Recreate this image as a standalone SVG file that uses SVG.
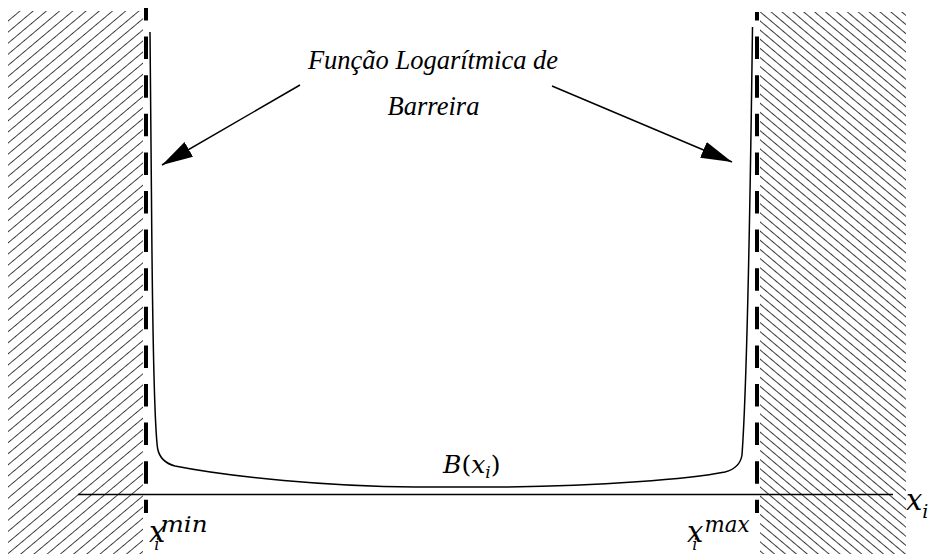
<svg xmlns="http://www.w3.org/2000/svg" width="934" height="554" viewBox="0 0 934 554">
<style>
.hl{stroke:#3a3a3a;stroke-width:1;}
.dash{stroke:#000;stroke-width:4;fill:none;stroke-dasharray:22.5 16.1;}
.curve{stroke:#000;stroke-width:1.5;fill:none;}
.axis{stroke:#000;stroke-width:1.6;}
.arr{stroke:#000;stroke-width:1.5;fill:none;marker-end:url(#ah);}
.lbl{font-family:'Liberation Serif',serif;font-style:italic;font-size:26.5px;fill:#000;text-anchor:middle;}
.m{font-family:'DejaVu Serif',serif;font-style:italic;fill:#000;}
.up{font-style:normal;}
</style>
<defs>
<pattern id="hatchL" width="20" height="8.5" patternUnits="userSpaceOnUse" patternTransform="rotate(-40)">
<line class="hl" x1="-1" y1="4.25" x2="21" y2="4.25"/>
</pattern>
<pattern id="hatchR" width="20" height="7" patternUnits="userSpaceOnUse" patternTransform="rotate(40)">
<line class="hl" x1="-1" y1="3.5" x2="21" y2="3.5"/>
</pattern>
<marker id="ah" markerUnits="userSpaceOnUse" markerWidth="34" markerHeight="20" refX="31" refY="8.5" orient="auto">
<path d="M0,0 L31,8.5 L0,17 Z" fill="#000"/>
</marker>
</defs>
<g id="regions">
<rect id="left-region" x="8" y="11" width="135" height="543" fill="url(#hatchL)"/>
<rect id="right-region" x="760" y="12" width="146" height="542" fill="url(#hatchR)"/>
</g>
<g id="limits">
<line id="xmin-line" class="dash" x1="146" y1="8" x2="146" y2="513" stroke-dashoffset="10"/>
<line id="xmax-line" class="dash" x1="757" y1="12" x2="757" y2="513" stroke-dashoffset="14"/>
</g>
<g id="axis">
<line class="axis" x1="78" y1="494.5" x2="893" y2="494.5"/>
</g>
<g id="barrier-curve">
<path class="curve" d="M150,32 L151.5,200 C152.5,330 154,420 157.5,448 Q160,462 175,466 C230,477 330,486.5 415,487 L500,487 C600,486 690,479 725,472 Q740,468 742,455 C744.5,420 749,300 752.5,27"/>
</g>
<g id="connectors">
<line class="arr" x1="300" y1="85" x2="162" y2="165"/>
<line class="arr" x1="552" y1="86" x2="732" y2="162"/>
</g>
<g id="label-barrier">
<text class="lbl" x="433" y="69">Função Logarítmica de</text>
<text class="lbl" x="433.5" y="115">Barreira</text>
</g>
<g id="label-B">
<text class="m" x="443" y="473" font-size="25">B<tspan class="up">(</tspan>x<tspan font-size="17" dy="5">i</tspan><tspan class="up" dy="-5">)</tspan></text>
</g>
<g id="label-xmin">
<text class="m" x="149" y="542" font-size="29">x<tspan font-size="16" dx="-11" dy="8">i</tspan><tspan font-size="23" dx="1" dy="-18" textLength="47" lengthAdjust="spacingAndGlyphs">min</tspan></text>
</g>
<g id="label-xmax">
<text class="m" x="687" y="542" font-size="29">x<tspan font-size="16" dx="-11" dy="8">i</tspan><tspan font-size="23" dx="7" dy="-18" textLength="45" lengthAdjust="spacingAndGlyphs">max</tspan></text>
</g>
<g id="label-xi">
<text class="m" x="906" y="510" font-size="29">x<tspan font-size="19" dy="8">i</tspan></text>
</g>
</svg>
